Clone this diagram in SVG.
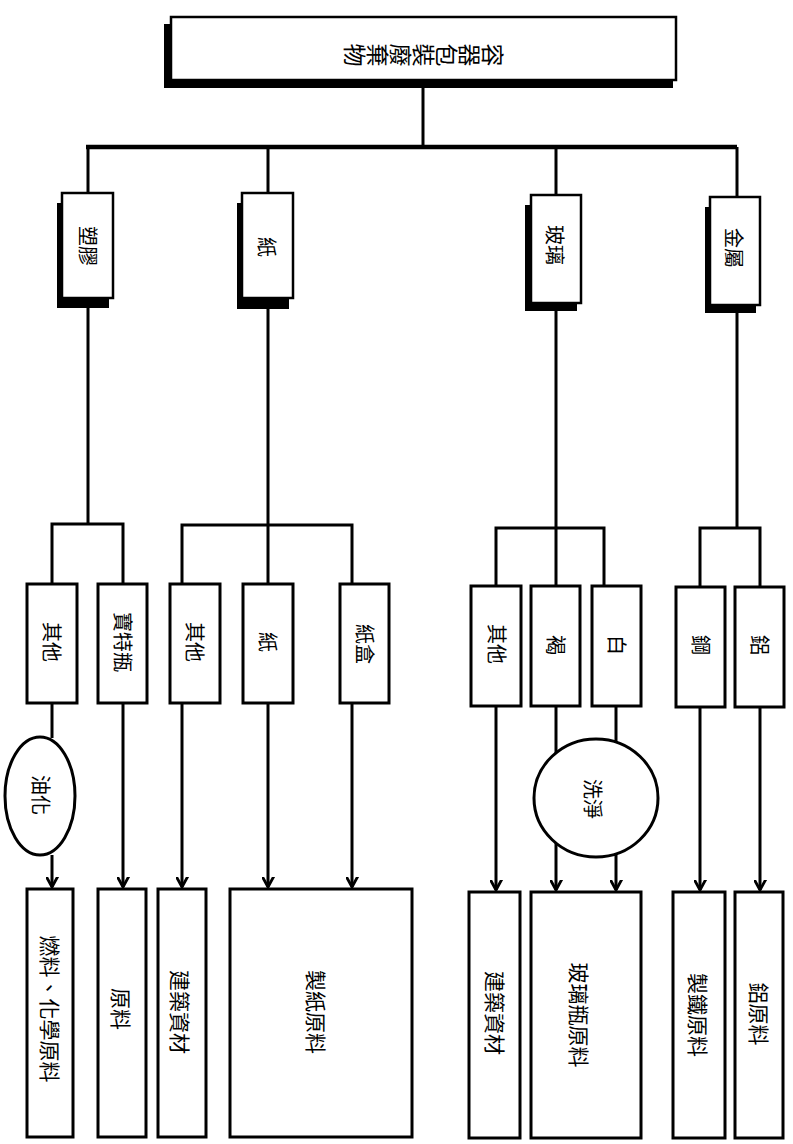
<svg xmlns="http://www.w3.org/2000/svg" width="793" height="1144" viewBox="0 0 793 1144">
<style>
.box{fill:#fff;stroke:#000;stroke-width:3}
.fr{fill:#fff;stroke:#000;stroke-width:2.5}
.sh{fill:#000}
.ln{fill:none;stroke:#000;stroke-width:3}
.bus{fill:none;stroke:#000;stroke-width:4.5}
.t{font-family:"Noto Sans CJK TC","Noto Sans CJK SC",sans-serif;font-size:20px;fill:#000;text-anchor:middle;dominant-baseline:central}
.tb{font-size:21px}
.tv{font-family:"Noto Sans CJK TC","Noto Sans CJK SC",sans-serif;font-size:23px;fill:#000;text-anchor:middle;writing-mode:vertical-rl}
</style>
<defs>
<marker id="ar" markerUnits="userSpaceOnUse" markerWidth="20" markerHeight="20" viewBox="-10 -14 20 20" refX="0" refY="0" orient="auto">
<path d="M-11,-6 L0,0 L-11,6" fill="none" stroke="#000" stroke-width="2.8"/>
</marker>
</defs>
<rect x="0" y="0" width="793" height="1144" fill="#fff"/>
<g id="connectors">
<path class="ln" d="M423,87 V147"/>
<path class="bus" d="M86,147 H737"/>
<path class="ln" d="M88,147 V193 M268,147 V193 M556,147 V195 M737,147 V197"/>
<path class="ln" d="M88,308 V524 M52,584 V524 H123 V584"/>
<path class="ln" d="M268,309 V584 M182,584 V525 H352 V584"/>
<path class="ln" d="M556,311 V586 M496,586 V528 H604 V586"/>
<path class="ln" d="M737,313 V528 M700,587 V528 H760 V587"/>
<path class="ln" d="M52,703 V738"/>
<path class="ln" d="M52,855 V887" marker-end="url(#ar)"/>
<path class="ln" d="M123,703 V887" marker-end="url(#ar)"/>
<path class="ln" d="M182,703 V887" marker-end="url(#ar)"/>
<path class="ln" d="M268,703 V887" marker-end="url(#ar)"/>
<path class="ln" d="M352,703 V887" marker-end="url(#ar)"/>
<path class="ln" d="M496,706 V890" marker-end="url(#ar)"/>
<path class="ln" d="M556,706 V890" marker-end="url(#ar)"/>
<path class="ln" d="M616,706 V890" marker-end="url(#ar)"/>
<path class="ln" d="M700,707 V890" marker-end="url(#ar)"/>
<path class="ln" d="M760,707 V890" marker-end="url(#ar)"/>
</g>
<g id="root">
<rect class="sh" x="164" y="24" width="509" height="64"/>
<rect class="fr" x="171" y="17" width="505" height="63"/>
<text class="tv" transform="translate(424,55) rotate(90)" x="0" y="0">容器包裝廢棄物</text>
</g>
<g id="plastic">
<rect class="sh" x="57" y="203" width="52" height="105"/>
<rect class="fr" x="62" y="193" width="51" height="105"/>
<text class="t" transform="translate(88,246) rotate(90)">塑膠</text>
</g>
<g id="paper">
<rect class="sh" x="237" y="203" width="52" height="106"/>
<rect class="fr" x="242" y="193" width="51" height="105"/>
<text class="t" transform="translate(267,247) rotate(90)">紙</text>
</g>
<g id="glass">
<rect class="sh" x="525" y="205" width="52" height="106"/>
<rect class="fr" x="531" y="195" width="50" height="108"/>
<text class="t" transform="translate(555,245) rotate(90)">玻璃</text>
</g>
<g id="metal">
<rect class="sh" x="705" y="207" width="51" height="106"/>
<rect class="fr" x="710" y="197" width="50" height="108"/>
<text class="t" transform="translate(734,248) rotate(90)">金屬</text>
</g>
<g id="plastic-other">
<rect class="box" x="27" y="584" width="50" height="119"/>
<text class="t" transform="translate(52,642) rotate(90)">其他</text>
</g>
<g id="pet">
<rect class="box" x="98" y="584" width="49" height="119"/>
<text class="t" transform="translate(123,642) rotate(90)">寶特瓶</text>
</g>
<g id="paper-other">
<rect class="box" x="170" y="584" width="50" height="119"/>
<text class="t" transform="translate(195,642) rotate(90)">其他</text>
</g>
<g id="paper-paper">
<rect class="box" x="243" y="584" width="50" height="119"/>
<text class="t" transform="translate(268,642) rotate(90)">紙</text>
</g>
<g id="carton">
<rect class="box" x="340" y="584" width="49" height="119"/>
<text class="t" transform="translate(365,644) rotate(90)">紙盒</text>
</g>
<g id="glass-other">
<rect class="box" x="471" y="586" width="50" height="120"/>
<text class="t" transform="translate(497,644) rotate(90)">其他</text>
</g>
<g id="brown">
<rect class="box" x="531" y="586" width="49" height="120"/>
<text class="t" transform="translate(556,645) rotate(90)">褐</text>
</g>
<g id="white">
<rect class="box" x="592" y="586" width="49" height="120"/>
<text class="t" transform="translate(617,645) rotate(90)">白</text>
</g>
<g id="steel">
<rect class="box" x="676" y="587" width="49" height="120"/>
<text class="t" transform="translate(701,645) rotate(90)">鋼</text>
</g>
<g id="aluminum">
<rect class="box" x="735" y="587" width="49" height="120"/>
<text class="t" transform="translate(760,645) rotate(90)">鋁</text>
</g>
<g id="oil">
<ellipse class="box" cx="40" cy="796" rx="35" ry="59"/>
<text class="t" transform="translate(41,795) rotate(90)">油化</text>
</g>
<g id="wash">
<ellipse class="box" cx="596" cy="798" rx="62" ry="59"/>
<text class="t" transform="translate(593,799) rotate(90)">洗淨</text>
</g>
<g id="fuel">
<rect class="box" x="27" y="889" width="46" height="248"/>
<text class="t tb" transform="translate(51,1009) rotate(90)">燃料、化學原料</text>
</g>
<g id="raw">
<rect class="box" x="98" y="889" width="48" height="248"/>
<text class="t tb" transform="translate(122,1009) rotate(90)">原料</text>
</g>
<g id="build1">
<rect class="box" x="158" y="889" width="48" height="248"/>
<text class="t tb" transform="translate(181,1012) rotate(90)">建築資材</text>
</g>
<g id="papermaking">
<rect class="box" x="230" y="889" width="182" height="248"/>
<text class="t tb" transform="translate(317,1012) rotate(90)">製紙原料</text>
</g>
<g id="build2">
<rect class="box" x="469" y="892" width="51" height="246"/>
<text class="t tb" transform="translate(496,1013) rotate(90)">建築資材</text>
</g>
<g id="glassraw">
<rect class="box" x="531" y="892" width="110" height="246"/>
<text class="t tb" transform="translate(580,1015) rotate(90)">玻璃瓶原料</text>
</g>
<g id="ironraw">
<rect class="box" x="673" y="892" width="52" height="246"/>
<text class="t tb" transform="translate(699,1015) rotate(90)">製鐵原料</text>
</g>
<g id="alraw">
<rect class="box" x="735" y="892" width="48" height="246"/>
<text class="t tb" transform="translate(760,1014) rotate(90)">鋁原料</text>
</g>
</svg>
